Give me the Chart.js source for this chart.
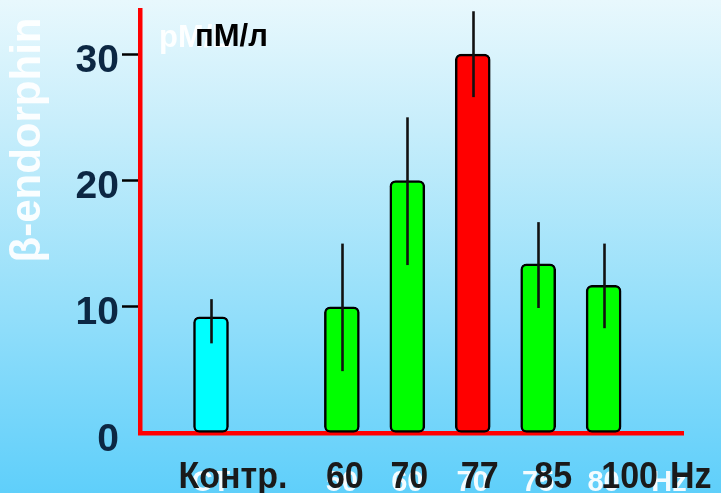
<!DOCTYPE html>
<html>
<head>
<meta charset="utf-8">
<script src="https://cdn.jsdelivr.net/npm/chart.js@4.4.1/dist/chart.umd.min.js"></script>
<style>
  html, body { margin: 0; padding: 0; }
  body { width: 721px; height: 493px; overflow: hidden; }
  #wrap { position: relative; width: 721px; height: 493px; }
</style>
</head>
<body>
<div id="wrap"><canvas id="c" width="721" height="493"></canvas></div>
<script>
// β-endorphin level by stimulation frequency (mean with error range)
const categories = ['Контр.', '', '60', '70', '77', '85', '100'];
const means      = [9.2, null, 10.0, 20.0, 30.0, 13.4, 11.7];
const errHigh    = [10.6, null, 15.0, 25.0, 33.4, 16.7, 15.0];
const errLow     = [7.1, null, 4.9, 13.3, 26.6, 9.9, 8.3];
const barColors  = ['#00ffff', null, '#00ff00', '#00ff00', '#ff0000', '#00ff00', '#00ff00'];
const yTicks     = [0, 10, 20, 30];
const ghostLabels = ['CT', '', '50', '60', '70', '75', '80', 'Hz'];
const unitLabel  = 'Hz';

const points = [];
const colors = [];
categories.forEach((c, i) => {
  if (means[i] !== null) {
    points.push({ x: i, y: means[i], hi: errHigh[i], lo: errLow[i] });
    colors.push(barColors[i]);
  }
});

// slide-like gradient background
const backdrop = {
  id: 'backdrop',
  beforeDraw(chart) {
    const { ctx, width, height } = chart;
    const g = ctx.createLinearGradient(0, 0, 0, height);
    g.addColorStop(0, '#e8f8fd');
    g.addColorStop(0.25, '#c8eefb');
    g.addColorStop(0.6, '#98e0fa');
    g.addColorStop(1, '#5fcffa');
    ctx.save();
    ctx.fillStyle = g;
    ctx.fillRect(0, 0, width, height);

    // faded titles behind the chart
    ctx.fillStyle = 'rgba(255,255,255,0.93)';
    ctx.font = 'bold 42px "Liberation Sans", Arial, sans-serif';
    ctx.translate(40, 140);
    ctx.rotate(-Math.PI / 2);
    ctx.textAlign = 'center';
    ctx.textBaseline = 'alphabetic';
    ctx.fillText('β-endorphin', 0, 0);
    ctx.restore();

    ctx.save();
    ctx.fillStyle = 'rgba(255,255,255,0.93)';
    ctx.font = 'bold 31px "Liberation Sans", Arial, sans-serif';
    ctx.textAlign = 'left';
    ctx.textBaseline = 'alphabetic';
    ctx.fillText('pM/L', 159, 47);

    const xs = chart.scales.x;
    ctx.font = 'bold 29px "Liberation Sans", Arial, sans-serif';
    ctx.textAlign = 'center';
    ctx.textBaseline = 'top';
    ghostLabels.forEach((t, i) => {
      if (t) ctx.fillText(t, xs.getPixelForValue(i), 468);
    });
    ctx.restore();
  }
};

// error range drawn as a single vertical line through each bar
const errorLines = {
  id: 'errorLines',
  afterDatasetsDraw(chart) {
    const { ctx } = chart;
    const xs = chart.scales.x, ys = chart.scales.y;
    ctx.save();
    ctx.strokeStyle = '#111';
    ctx.lineWidth = 2.6;
    points.forEach(p => {
      const x = Math.round(xs.getPixelForValue(p.x)) + 0.5;
      ctx.beginPath();
      ctx.moveTo(x, ys.getPixelForValue(p.hi));
      ctx.lineTo(x, ys.getPixelForValue(p.lo));
      ctx.stroke();
    });
    ctx.restore();
  }
};

// category captions and units (slightly tall bold face)
const captionNudge = [22, 0, 3, 2, 7, 15, 26];
function tallText(ctx, text, x, y) {
  ctx.save();
  ctx.translate(x, y);
  ctx.scale(1, 1.08);
  ctx.fillText(text, 0, 0);
  ctx.restore();
}
const captions = {
  id: 'captions',
  afterDraw(chart) {
    const { ctx } = chart;
    const xs = chart.scales.x;
    ctx.save();
    ctx.fillStyle = '#1a1a1a';
    ctx.font = 'bold 34px "Liberation Sans", Arial, sans-serif';
    ctx.textAlign = 'center';
    ctx.textBaseline = 'alphabetic';
    let lastRight = 0;
    categories.forEach((t, i) => {
      if (!t) return;
      const cx = xs.getPixelForValue(i) + captionNudge[i];
      tallText(ctx, t, cx, 488);
      lastRight = cx + ctx.measureText(t).width / 2;
    });
    ctx.textAlign = 'left';
    tallText(ctx, unitLabel, lastRight + 12, 488);

    ctx.fillStyle = '#000';
    ctx.font = 'bold 31px "Liberation Sans", Arial, sans-serif';
    ctx.fillText('пМ/л', 195, 46);
    ctx.restore();
  }
};

new Chart(document.getElementById('c'), {
  type: 'bar',
  data: {
    datasets: [{
      data: points,
      backgroundColor: colors,
      borderColor: '#000',
      borderWidth: 2.5,
      borderRadius: 6,
      borderSkipped: false,
      barThickness: 35
    }]
  },
  plugins: [backdrop, errorLines, captions],
  options: {
    responsive: false,
    animation: false,
    events: [],
    layout: { padding: { top: 10, right: 38, left: 0, bottom: 0 } },
    plugins: { legend: { display: false }, tooltip: { enabled: false } },
    scales: {
      x: {
        type: 'linear',
        offset: false,
        min: -1.085,
        max: 7.213,
        afterFit(s) { s.height = 60; s.paddingLeft = 0; s.paddingRight = 0; },
        ticks: { display: false },
        grid: { display: false, drawTicks: false, offset: false },
        border: { display: true, color: '#ff0000', width: 4.5 }
      },
      y: {
        type: 'linear',
        min: 0,
        max: 33.5,
        afterFit(s) { s.width = 140; s.paddingTop = 0; s.paddingBottom = 0; },
        afterBuildTicks(s) { s.ticks = yTicks.map(v => ({ value: v })); },
        ticks: {
          color: '#0c2743',
          font: { family: '"Liberation Sans", Arial, sans-serif', size: 39, weight: 'bold' },
          padding: 3,
          labelOffset: 7
        },
        grid: {
          drawOnChartArea: false,
          drawTicks: true,
          tickLength: 18,
          tickWidth: 2.5,
          tickColor: c => (c.tick && c.tick.value === 0 ? 'rgba(0,0,0,0)' : '#000')
        },
        border: { display: true, color: '#ff0000', width: 4.5 }
      }
    }
  }
});
</script>
</body>
</html>
